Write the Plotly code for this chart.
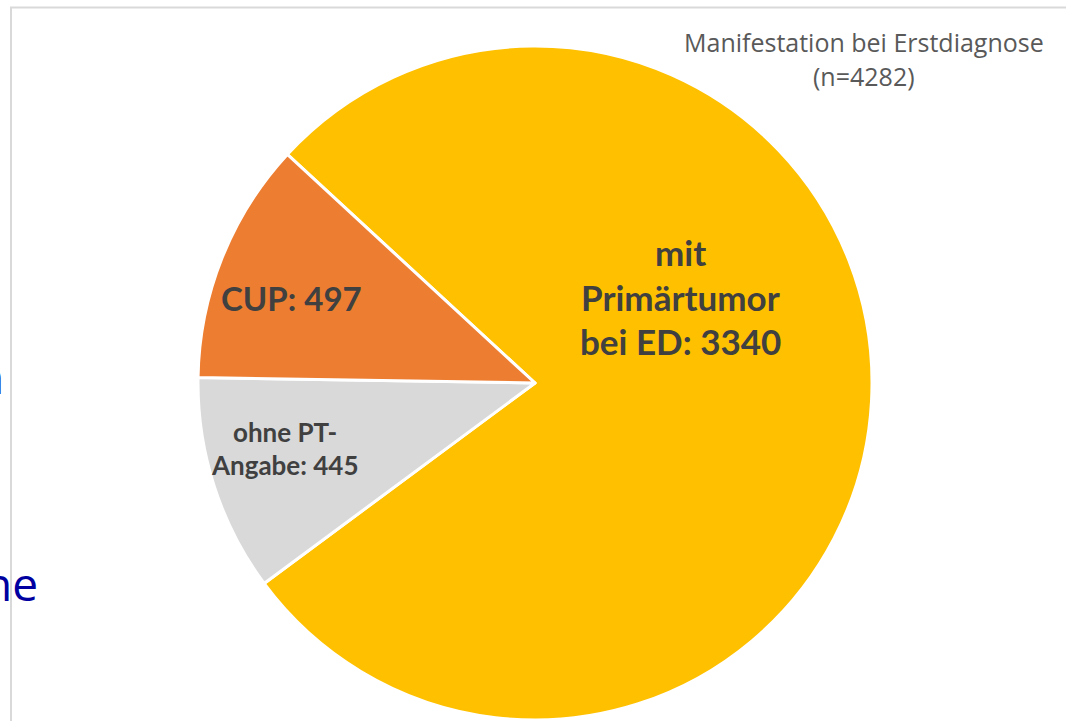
import plotly.graph_objects as go

# ---- data ----
categories = ["mit Primärtumor bei ED", "ohne PT-Angabe", "CUP"]
values = [3340, 445, 497]
colors = ["#FFC000", "#D9D9D9", "#ED7D31"]
slice_labels = [["mit", "Primärtumor", "bei ED: 3340"], ["ohne PT-", "Angabe: 445"], ["CUP: 497"]]
title_lines = ["Manifestation bei Erstdiagnose", "(n=4282)"]

W, H = 1066, 721
def px(x):
    return x / W
def py(y):
    return 1 - y / H

cx, cy, r = 535, 383, 337

fig = go.Figure()
fig.add_trace(go.Pie(
    labels=categories,
    values=values,
    sort=False,
    direction="clockwise",
    rotation=312.7,
    marker=dict(colors=colors, line=dict(color="white", width=3)),
    textinfo="none",
    hoverinfo="label+value",
    showlegend=False,
    domain=dict(x=[px(cx - r), px(cx + r)], y=[py(cy + r), py(cy - r)]),
))

annotations = []
# slice labels (positions per slice, text from data)
label_pos = [
    dict(x=680, ys=[252, 297, 341], size=35),
    dict(x=285, ys=[432, 465], size=26),
    dict(x=291, ys=[298], size=33),
]
for lines, pos in zip(slice_labels, label_pos):
    for line, yy in zip(lines, pos["ys"]):
        annotations.append(dict(
            x=px(pos["x"]), y=py(yy), xref="paper", yref="paper",
            text="<b>" + line + "</b>", showarrow=False,
            xanchor="center", yanchor="middle",
            font=dict(family="Lato", size=pos["size"], color="#404040"),
        ))

# title
for line, yy in zip(title_lines, [42, 76]):
    annotations.append(dict(
        x=px(864), y=py(yy), xref="paper", yref="paper",
        text=line, showarrow=False, xanchor="center", yanchor="middle",
        font=dict(family="Open Sans", size=25, color="#595959"),
    ))

# fragments of background slide text at left edge
annotations.append(dict(x=px(6), y=py(376), xref="paper", yref="paper", text="n",
                        showarrow=False, xanchor="right", yanchor="middle",
                        font=dict(family="Open Sans", size=46, color="#0000A0")))
annotations.append(dict(x=px(40), y=py(583), xref="paper", yref="paper", text="ne",
                        showarrow=False, xanchor="right", yanchor="middle",
                        font=dict(family="Open Sans", size=46, color="#0000A0")))

shapes = [
    dict(type="line", xref="paper", yref="paper", x0=px(11), x1=px(11), y0=py(7), y1=0,
         line=dict(color="#D9D9D9", width=2)),
    dict(type="line", xref="paper", yref="paper", x0=px(10), x1=1, y0=py(7.5), y1=py(7.5),
         line=dict(color="#D9D9D9", width=2)),
]

fig.update_layout(
    width=W, height=H,
    margin=dict(l=0, r=0, t=0, b=0),
    paper_bgcolor="white", plot_bgcolor="white",
    annotations=annotations, shapes=shapes,
)

fig.write_html("out.html", config={"displayModeBar": False},
               post_script="document.body.style.margin='0';document.body.style.overflow='hidden';")
